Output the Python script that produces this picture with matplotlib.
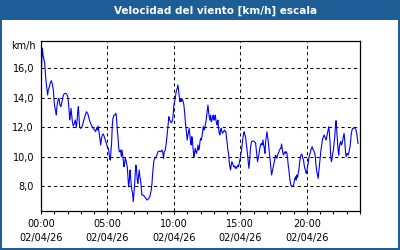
import matplotlib
matplotlib.use('Agg')
import matplotlib.pyplot as plt
from matplotlib.patches import Rectangle
from matplotlib.ticker import MultipleLocator, FuncFormatter

# hours since 00:00 on 02/04/26 and wind speed in km/h
hours = [
    0.03, 0.10, 0.15, 0.28, 0.33, 0.38, 0.45, 0.50, 0.55, 0.63, 0.70, 0.78, 0.85, 0.93, 0.98,
    1.03, 1.10, 1.15, 1.20, 1.28, 1.35, 1.43, 1.50, 1.58, 1.65, 1.73, 1.83, 1.93, 2.01, 2.06,
    2.11, 2.16, 2.21, 2.26, 2.31, 2.36, 2.43, 2.51, 2.58, 2.66, 2.71, 2.76, 2.81, 2.86, 2.91,
    2.98, 3.06, 3.13, 3.23, 3.33, 3.43, 3.53, 3.63, 3.73, 3.83, 3.93, 4.03, 4.11, 4.19, 4.24,
    4.29, 4.36, 4.44, 4.49, 4.54, 4.61, 4.69, 4.76, 4.84, 4.91, 4.99,
    5.06, 5.11, 5.16, 5.21, 5.26, 5.31, 5.36, 5.41, 5.49, 5.56, 5.64, 5.69, 5.74, 5.79, 5.84,
    5.89, 5.94, 5.99, 6.04, 6.09, 6.14, 6.19, 6.24, 6.29, 6.34, 6.39, 6.44, 6.49, 6.54, 6.59,
    6.64, 6.69, 6.74, 6.79, 6.84, 6.89, 6.94, 6.99, 7.04, 7.09, 7.14, 7.19, 7.24, 7.29, 7.34,
    7.39, 7.44, 7.49, 7.54, 7.59, 7.69, 7.80, 7.89, 7.99, 8.10, 8.20, 8.29, 8.35, 8.40, 8.45,
    8.50, 8.57, 8.65, 8.72, 8.80, 8.90, 9.00, 9.10, 9.17, 9.22, 9.27, 9.35, 9.42, 9.50, 9.57,
    9.62, 9.67, 9.75, 9.82, 9.90,
    9.95, 10.00, 10.05, 10.10, 10.15, 10.20, 10.25, 10.30, 10.35, 10.40, 10.45, 10.50, 10.55,
    10.60, 10.65, 10.70, 10.75, 10.80, 10.85, 10.90, 10.95, 11.00, 11.05, 11.10, 11.15, 11.20,
    11.25, 11.30, 11.35, 11.40, 11.45, 11.50, 11.55, 11.60, 11.65, 11.70, 11.76, 11.81, 11.86,
    11.91, 11.96, 12.01, 12.06, 12.11, 12.16, 12.21, 12.26, 12.31, 12.36, 12.41, 12.46, 12.51,
    12.56, 12.61, 12.66, 12.71, 12.76, 12.81, 12.86, 12.91, 12.96, 13.01, 13.06, 13.11, 13.16,
    13.21, 13.26, 13.31, 13.36, 13.41, 13.46, 13.51, 13.56, 13.61, 13.66, 13.71, 13.76, 13.81,
    13.86, 13.91, 13.96, 14.01, 14.06, 14.11, 14.16, 14.21, 14.26, 14.31, 14.36, 14.41, 14.46,
    14.51, 14.56, 14.61, 14.66, 14.71, 14.76, 14.81, 14.86,
    14.99, 15.04, 15.09, 15.14, 15.19, 15.24, 15.29, 15.34, 15.39, 15.44, 15.49, 15.54, 15.59,
    15.64, 15.69, 15.74, 15.79, 15.84, 15.89, 15.97, 16.04, 16.14, 16.19, 16.24, 16.29, 16.34,
    16.39, 16.44, 16.49, 16.54, 16.59, 16.65, 16.70, 16.75, 16.80, 16.85, 16.90, 16.95, 17.00,
    17.05, 17.10, 17.15, 17.20, 17.25, 17.30, 17.35, 17.40, 17.45, 17.50, 17.55, 17.60, 17.65,
    17.70, 17.75, 17.80, 17.85, 17.90, 17.95, 18.00, 18.05, 18.10, 18.15, 18.20, 18.25, 18.30,
    18.35, 18.40, 18.45, 18.50, 18.55, 18.60, 18.65, 18.70, 18.75, 18.80, 18.85, 18.90, 18.95,
    19.00, 19.05, 19.10, 19.15, 19.20, 19.25, 19.30, 19.35, 19.40, 19.45, 19.50, 19.55, 19.60,
    19.65, 19.70, 19.75,
    19.80, 19.85, 19.90, 19.95, 20.00, 20.05, 20.10, 20.15, 20.20, 20.25, 20.30, 20.35, 20.40,
    20.45, 20.50, 20.55, 20.60, 20.65, 20.70, 20.75, 20.80, 20.85, 20.90, 20.95, 21.00, 21.05,
    21.10, 21.15, 21.20, 21.25, 21.30, 21.35, 21.40, 21.45, 21.50, 21.55, 21.60, 21.65, 21.70,
    21.75, 21.80, 21.85, 21.90, 21.95, 22.00, 22.05, 22.10, 22.15, 22.20, 22.25, 22.30, 22.35,
    22.40, 22.45, 22.50, 22.55, 22.60, 22.65, 22.70, 22.75, 22.80, 22.85, 22.90, 22.95, 23.00,
    23.05, 23.10, 23.15, 23.20, 23.25, 23.30, 23.35, 23.40, 23.45, 23.50, 23.55, 23.60, 23.65,
    23.70, 23.75, 23.80, 23.85,
]
speed = [
    15.93, 17.36, 16.90, 16.34, 15.66, 15.10, 14.53, 14.19, 14.53, 14.76, 15.03, 15.16, 14.94, 14.53, 13.85,
    13.40, 13.13, 12.84, 13.40, 13.85, 13.97, 13.51, 13.40, 13.74, 14.08, 14.26, 14.31, 14.26, 14.08, 13.74,
    13.18, 12.50, 12.84, 13.29, 12.84, 12.38, 12.09, 12.27, 12.50, 12.00, 12.38, 13.06, 13.40, 12.72, 12.00,
    11.93, 12.00, 12.16, 12.50, 12.84, 13.06, 12.90, 12.54, 12.27, 12.09, 11.93, 11.82, 11.71, 11.98, 11.82,
    12.09, 11.71, 11.14, 10.80, 11.19, 11.48, 11.55, 11.37, 11.14, 10.92, 10.69,
    10.58, 10.35, 9.90, 9.78, 10.35, 10.91, 12.04, 12.61, 12.83, 12.83, 12.95, 12.50, 11.82, 11.36, 10.69,
    10.35, 10.35, 10.46, 10.01, 10.46, 10.12, 9.78, 9.33, 9.56, 9.89, 9.78, 9.56, 9.33, 8.65, 7.98,
    8.31, 9.11, 8.65, 8.09, 7.75, 7.52, 6.96, 7.52, 8.09, 8.88, 9.44, 9.11, 8.43, 8.20, 8.65,
    9.11, 8.65, 8.43, 7.98, 7.41, 7.41, 7.30, 7.18, 7.07, 7.18, 7.34, 7.75, 8.20, 8.88, 9.33,
    9.78, 9.89, 9.96, 10.12, 10.35, 10.39, 10.35, 10.46, 10.24, 9.89, 10.35, 10.46, 10.91, 11.59, 12.27,
    12.72, 12.54, 12.38, 12.31, 12.50,
    12.95, 13.51, 13.74, 13.96, 14.30, 14.53, 14.64, 14.87, 14.53, 14.08, 13.74, 13.96, 13.74,
    13.90, 13.85, 13.74, 13.51, 13.06, 12.49, 12.04, 11.59, 11.14, 11.48, 11.70, 11.93, 11.48,
    11.03, 10.80, 11.37, 11.03, 10.46, 10.01, 10.24, 10.58, 10.35, 10.24, 10.46, 10.80, 10.46,
    10.58, 11.03, 11.25, 11.14, 11.37, 11.70, 12.04, 11.82, 11.93, 12.16, 12.38, 12.72, 13.17,
    13.51, 13.06, 12.72, 12.49, 12.83, 12.38, 12.49, 12.72, 12.83, 12.49, 12.61, 12.83, 12.49,
    12.27, 12.16, 12.49, 11.93, 11.59, 11.48, 11.82, 11.93, 11.70, 11.59, 11.70, 11.75, 11.82,
    11.70, 11.70, 11.25, 10.91, 10.46, 10.24, 9.67, 9.33, 9.11, 9.44, 9.67, 9.56, 9.44,
    9.33, 9.38, 9.22, 9.33, 9.22, 9.33, 9.44, 9.33,
    9.90, 10.24, 10.46, 10.91, 11.25, 11.59, 11.70, 11.48, 11.36, 10.91, 10.57, 10.12, 9.67,
    9.22, 9.67, 10.35, 10.80, 11.03, 11.07, 11.07, 11.03, 10.96, 10.57, 10.12, 9.67, 9.90,
    10.12, 10.46, 10.69, 10.87, 10.91, 10.80, 11.14, 10.80, 10.57, 10.24, 11.03, 11.36, 11.70,
    11.36, 11.03, 10.57, 10.12, 9.67, 9.22, 8.77, 8.99, 9.22, 9.44, 9.67, 9.90, 10.12,
    10.01, 9.90, 10.12, 10.24, 10.35, 10.46, 10.57, 10.57, 10.87, 10.57, 10.24, 10.12, 10.24,
    10.35, 10.24, 10.35, 10.24, 9.90, 9.44, 9.10, 8.65, 8.31, 8.09, 7.98, 8.02, 7.98,
    8.09, 8.31, 8.54, 8.65, 8.43, 8.77, 8.61, 8.88, 9.10, 9.56, 9.90, 10.12, 10.19,
    10.12, 9.90, 9.78,
    9.44, 9.22, 9.10, 8.88, 8.99, 9.33, 9.56, 9.90, 10.12, 10.24, 10.46, 10.57, 10.69,
    10.51, 10.46, 10.35, 10.24, 9.90, 9.33, 8.99, 8.77, 8.54, 8.99, 9.44, 9.90, 10.35,
    10.69, 11.03, 11.25, 11.36, 11.48, 11.36, 11.25, 11.14, 11.36, 11.59, 11.82, 12.04, 11.59,
    10.91, 10.01, 9.67, 9.90, 10.24, 10.46, 10.91, 11.36, 12.04, 12.45, 11.82, 11.14, 10.46,
    10.12, 10.69, 10.91, 11.03, 10.80, 10.91, 11.14, 11.36, 11.59, 11.14, 10.46, 10.01, 10.12,
    10.24, 10.12, 10.24, 10.46, 10.69, 11.14, 11.59, 11.82, 11.93, 11.93, 12.00, 11.95, 11.91,
    11.82, 11.59, 11.25, 10.91,
]

tick_hours = [0, 5, 10, 15, 20]
tick_labels = ['00:00\n02/04/26', '05:00\n02/04/26', '10:00\n02/04/26',
               '15:00\n02/04/26', '20:00\n02/04/26']
title = 'Velocidad del viento [km/h] escala'
unit = 'km/h'
frame_blue = '#1e5e96'

plt.rcParams['font.family'] = 'DejaVu Sans'

fig = plt.figure(figsize=(4, 2.5), dpi=100, facecolor='white')
ax = fig.add_axes([41 / 400, 1 - 211 / 250, 319 / 400, 170 / 250])

ax.plot(hours, speed, color='#0000ff', linewidth=0.8)

ax.set_xlim(0, 24)
ax.set_ylim(6.33, 17.85)
ax.set_xticks(tick_hours)
ax.set_xticklabels(tick_labels, linespacing=1.55)
ax.xaxis.set_minor_locator(MultipleLocator(1))
ax.yaxis.set_major_locator(MultipleLocator(2))
ax.yaxis.set_major_formatter(FuncFormatter(lambda v, p: ('%.1f' % v).replace('.', ',')))

ax.tick_params(axis='x', which='both', direction='out', length=2.5, width=0.75,
               labelsize=7, pad=3, colors='black')
ax.tick_params(axis='y', length=0, labelsize=7, pad=5)
for s in ax.spines.values():
    s.set_linewidth(0.9)
    s.set_color('black')

ax.grid(True, which='major', color='black', linestyle=(0, (3, 3)), linewidth=0.75)
ax.set_axisbelow(True)

fig.text(36 / 400, 1 - 46 / 250, unit, ha='right', va='center', fontsize=7)

# blue title bar and frame
fig.add_artist(Rectangle((0, 1 - 20 / 250), 1, 20 / 250, transform=fig.transFigure,
                         facecolor=frame_blue, edgecolor='none'))
fig.add_artist(Rectangle((0, 0), 1.5 / 400, 1, transform=fig.transFigure,
                         facecolor=frame_blue, edgecolor='none'))
fig.add_artist(Rectangle((1 - 2 / 400, 0), 2 / 400, 1, transform=fig.transFigure,
                         facecolor=frame_blue, edgecolor='none'))
fig.add_artist(Rectangle((0, 0), 1, 2 / 250, transform=fig.transFigure,
                         facecolor=frame_blue, edgecolor='none'))
fig.text(216 / 400, 1 - 10.5 / 250, title, ha='center', va='center',
         color='white', fontsize=7.5, fontweight='bold')

fig.savefig('out.png', dpi=100, facecolor='white')
